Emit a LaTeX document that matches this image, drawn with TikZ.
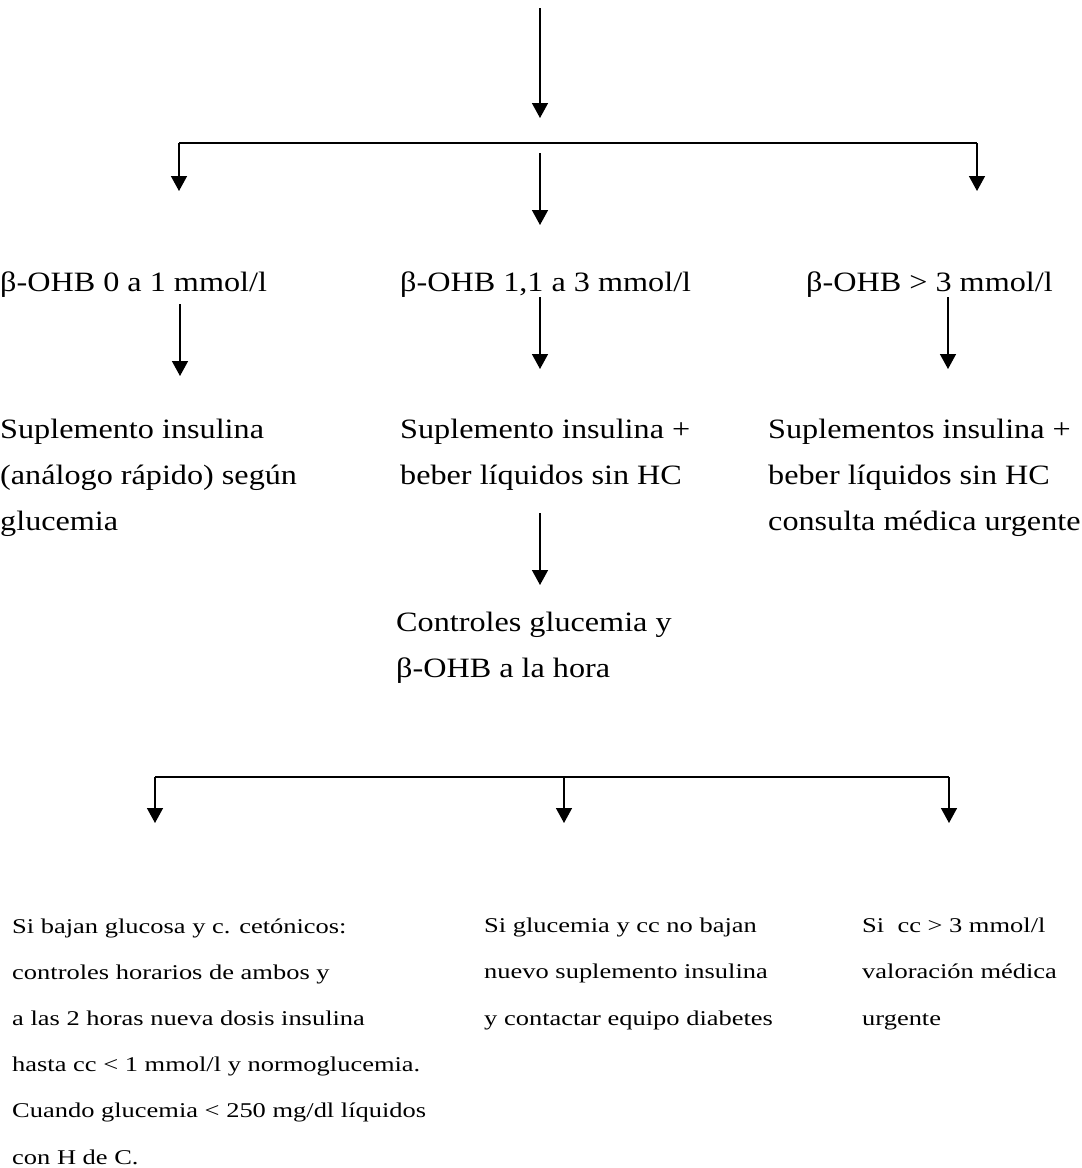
\documentclass[tikz,border=0pt]{standalone}
\usepackage{fontspec}
\setmainfont{Liberation Serif}
\newfontfamily\topfont[FakeStretch=1.15]{Liberation Serif}
\newfontfamily\botfont[FakeStretch=1.26]{Liberation Serif}
\usetikzlibrary{arrows.meta}
\tikzset{
  conn/.style={line width=1.5pt, draw=black},
  arr/.style={conn, -{Triangle[length=15pt,width=16pt]}},
  big/.style={inner sep=0pt, anchor=base west, align=left, font=\topfont\fontsize{28}{45.7}\selectfont},
  small/.style={inner sep=0pt, anchor=base west, align=left, font=\botfont\fontsize{21}{46.2}\selectfont}
}
\begin{document}
\begin{tikzpicture}[x=1pt,y=-1pt]
\useasboundingbox (0,0) rectangle (1082,1168);
% texts (anchored at the baseline of the last line)
\node[big] (a1) at (0,291) {β-OHB 0 a 1 mmol/l};
\node[big] (a2) at (400,291) {β-OHB 1,1 a 3 mmol/l};
\node[big] (a3) at (806,291) {β-OHB > 3 mmol/l};
\node[big] (b1) at (0,530) {Suplemento insulina\\(análogo rápido) según\\glucemia};
\node[big] (b2) at (400,484) {Suplemento insulina +\\beber líquidos sin HC};
\node[big] (b3) at (768,530) {Suplementos insulina +\\beber líquidos sin HC\\consulta médica urgente};
\node[big] (c) at (396,677) {Controles glucemia y\\β-OHB a la hora};
\node[small] (d1) at (12,1164) {Si bajan glucosa y c. cetónicos:\\controles horarios de ambos y\\a las 2 horas nueva dosis insulina\\hasta cc < 1 mmol/l y normoglucemia.\\Cuando glucemia < 250 mg/dl líquidos\\con H de C.};
\node[small] (d2) at (484,1025) {Si glucemia y cc no bajan\\nuevo suplemento insulina\\y contactar equipo diabetes};
\node[small] (d3) at (862,1025) {Si\ \ cc > 3 mmol/l\\valoración médica\\urgente};
% coordinates
\coordinate (t0) at (540,8);
\coordinate (t1) at (540,118);
\coordinate (hl) at (179,143);
\coordinate (hr) at (977,143);
\coordinate (hlt) at (179,191);
\coordinate (hrt) at (977,191);
\coordinate (m0) at (540,153);
\coordinate (m1) at (540,225);
\coordinate (p10) at (180,304);
\coordinate (p11) at (180,376);
\coordinate (p20) at (540,297);
\coordinate (p21) at (540,369);
\coordinate (p30) at (948,297);
\coordinate (p31) at (948,369);
\coordinate (q0) at (540,513);
\coordinate (q1) at (540,585);
\coordinate (gl) at (155,777);
\coordinate (gm) at (564,777);
\coordinate (gr) at (949,777);
\coordinate (glt) at (155,823);
\coordinate (gmt) at (564,823);
\coordinate (grt) at (949,823);
% connectors
\draw[arr] (t0) -- (t1);
\draw[conn] (hl) -- (hr);
\draw[arr] (hl) -- (hlt);
\draw[arr] (hr) -- (hrt);
\draw[arr] (m0) -- (m1);
\draw[arr] (p10) -- (p11);
\draw[arr] (p20) -- (p21);
\draw[arr] (p30) -- (p31);
\draw[arr] (q0) -- (q1);
\draw[conn] (gl) -- (gr);
\draw[arr] (gl) -- (glt);
\draw[arr] (gm) -- (gmt);
\draw[arr] (gr) -- (grt);
\end{tikzpicture}
\end{document}
